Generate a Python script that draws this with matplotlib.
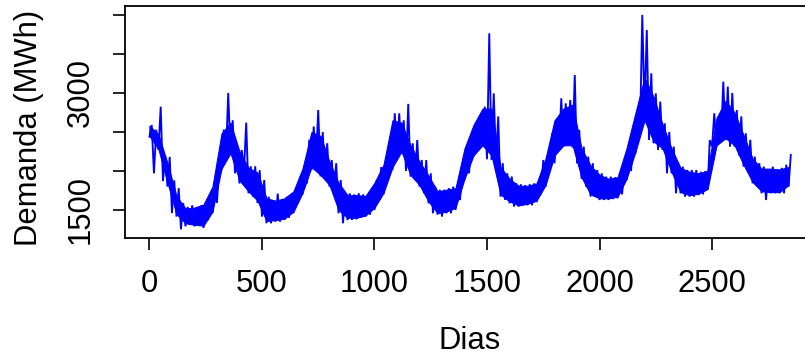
import matplotlib
matplotlib.use("Agg")
import matplotlib.pyplot as plt
import numpy as np

# Daily electricity demand (MWh), read from the picture as a 20-day envelope:
# for each block starting at `dias_bloco`, the lowest and highest daily value.
dias_bloco = list(range(0, 2841, 20))
demanda_min = [
    2440, 1970, 2270, 1870, 1800, 1460, 1415, 1252, 1290, 1310,
    1290, 1310, 1270, 1370, 1460, 1590, 2010, 2180, 2230, 1970,
    1840, 2010, 1714, 1670, 1590, 1415, 1330, 1330, 1350, 1350,
    1372, 1400, 1460, 1586, 1700, 1840, 2013, 2100, 1930, 1928,
    1800, 1760, 1458, 1330, 1370, 1372, 1380, 1400, 1415, 1440,
    1500, 1670, 1700, 1885, 2013, 2230, 2227, 2000, 1928, 1885,
    1800, 1714, 1586, 1458, 1440, 1415, 1458, 1458, 1500, 1628,
    1885, 1970, 2184, 2312, 2312, 2150, 2140, 2146, 1671, 1630,
    1586, 1543, 1543, 1560, 1560, 1560, 1600, 1700, 1800, 2056,
    2098, 2270, 2312, 2440, 2300, 2098, 1900, 1800, 1671, 1671,
    1628, 1628, 1628, 1640, 1650, 1700, 1884, 2000, 2226, 2500,
    2782, 2397, 2355, 2270, 2270, 1970, 1970, 1714, 1714, 1671,
    1671, 1671, 1690, 1700, 1757, 2312, 2312, 2397, 2397, 2312,
    2312, 2200, 2056, 2000, 1842, 1800, 1714, 1628, 1714, 1714,
    1714, 1714, 1800,
]
demanda_max = [
    2590, 2530, 2825, 2190, 2180, 1880, 1780, 1590, 1540, 1560,
    1540, 1560, 1590, 1630, 1840, 2060, 2530, 3000, 2650, 2310,
    2270, 2620, 2060, 2060, 2010, 1885, 1670, 1610, 1710, 1620,
    1670, 1680, 1760, 1928, 2056, 2400, 2570, 2782, 2500, 2355,
    2140, 2100, 1885, 1670, 1714, 1700, 1714, 1700, 1690, 1740,
    1885, 2050, 2100, 2440, 2740, 2740, 2650, 2860, 2355, 2397,
    2141, 2140, 1970, 1800, 1760, 1760, 1780, 1800, 1800, 1970,
    2312, 2312, 2611, 2700, 2825, 3765, 2995, 2700, 2100, 1970,
    1930, 1842, 1830, 1820, 1830, 1842, 1860, 2141, 2184, 2483,
    2500, 2932, 2867, 2910, 3230, 2526, 2312, 2184, 2100, 2013,
    1970, 1928, 1928, 1920, 1940, 2000, 2312, 2400, 2782, 4000,
    3807, 3252, 2995, 2889, 2611, 2500, 2312, 2100, 2056, 2013,
    2013, 2013, 1990, 2000, 2397, 2740, 2700, 3145, 3081, 3000,
    2782, 2700, 2483, 2400, 2184, 2100, 2056, 2000, 2056, 2013,
    2040, 2080, 2205,
]

# The dense core of the daily band (where the line is solid), every 40 days
dias_nucleo = list(range(0, 2841, 40))
nucleo_min = [
    2450, 2280, 1850, 1450, 1330, 1310, 1300, 1480, 2030, 2230,
    1880, 1740, 1620, 1360, 1370, 1390, 1480, 1720, 2050, 1950,
    1820, 1500, 1400, 1400, 1430, 1530, 1720, 2050, 2250, 1950,
    1820, 1610, 1460, 1480, 1530, 1900, 2200, 2330, 2200, 1700,
    1610, 1560, 1580, 1620, 1820, 2200, 2330, 2330, 1920, 1700,
    1650, 1650, 1670, 1900, 2250, 2650, 2380, 2290, 1990, 1730,
    1690, 1710, 1770, 2330, 2420, 2330, 2080, 1860, 1740, 1730,
    1730, 1820,
]
nucleo_max = [
    2580, 2470, 2100, 1680, 1520, 1530, 1570, 1800, 2480, 2620,
    2250, 2040, 1980, 1650, 1620, 1650, 1740, 2030, 2500, 2450,
    2120, 1850, 1690, 1690, 1680, 1850, 2080, 2650, 2620, 2330,
    2120, 1940, 1740, 1760, 1780, 2290, 2590, 2800, 2800, 2050,
    1900, 1810, 1810, 1840, 2160, 2650, 2800, 2850, 2290, 2070,
    1950, 1900, 1920, 2290, 2750, 3200, 2950, 2600, 2290, 2040,
    1990, 1970, 2000, 2680, 2900, 2750, 2460, 2160, 2030, 2030,
    2020, 2050,
]

x_ticks = [0, 500, 1000, 1500, 2000, 2500]
y_ticks = [1500, 2000, 2500, 3000, 3500, 4000]
y_tick_labels = ["1500", "", "", "3000", "", ""]

# Build the zigzag series: block low at its start day, block high mid-block
dias = []
demanda = []
for d, lo, hi in zip(dias_bloco, demanda_min, demanda_max):
    dias += [d, d + 10]
    demanda += [lo, hi]

plt.rcParams['font.family'] = ['Liberation Sans', 'DejaVu Sans']

W, H = 805, 356
fig = plt.figure(figsize=(W / 100, H / 100), dpi=100)
left, right, top, bottom = 124.7, 816, 6, 238
ax = fig.add_axes([left / W, (H - bottom) / H, (right - left) / W, (bottom - top) / H])

azul = "#0000ff"
ax.fill_between(dias_nucleo, nucleo_min, nucleo_max, color=azul, lw=0.8,
                edgecolor=azul)
ax.plot(dias, demanda, color=azul, lw=1.35, solid_joinstyle="miter")

ax.set_xlim(-110, 2962)
ax.set_ylim(1141, 4115)
ax.set_xticks(x_ticks)
ax.set_xticklabels([str(v) for v in x_ticks])
ax.set_yticks(y_ticks)
ax.set_yticklabels(y_tick_labels, rotation=90, va="center")

fs = 22.3
ax.tick_params(axis="both", labelsize=fs, length=8.6, width=1.2, colors="black",
               direction="out")
ax.tick_params(axis="x", pad=13.5)
ax.tick_params(axis="y", pad=12.3)
for s in ax.spines.values():
    s.set_linewidth(1.3)
    s.set_color("black")

fig.text(470 / W, 1 - 341 / H, "Dias", ha="center", va="center", fontsize=fs)
fig.text(29.5 / W, 1 - 128 / H, "Demanda (MWh)", ha="center", va="center",
         rotation=90, fontsize=fs)

fig.savefig("out.png", dpi=100)
